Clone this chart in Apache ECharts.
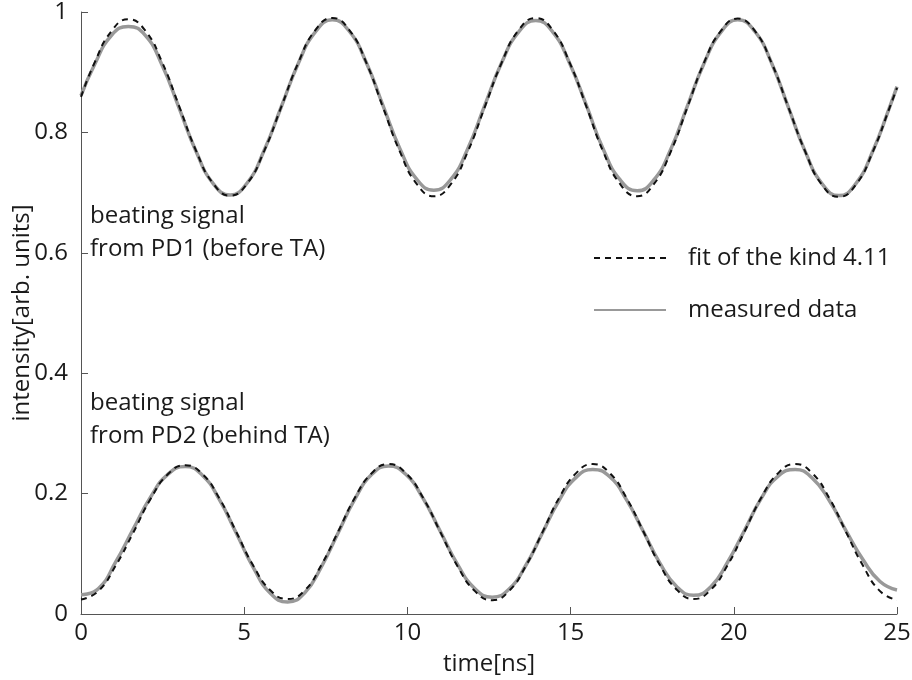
<!DOCTYPE html>
<html>
<head>
<meta charset="utf-8">
<script src="https://cdn.jsdelivr.net/npm/echarts@6/dist/echarts.min.js"></script>
<style>
  html, body { margin: 0; padding: 0; background: #fff; }
  #main { width: 912px; height: 680px; }
</style>
</head>
<body>
<div id="main"></div>
<script>
// upper pair of curves: PD1 (before TA), sampled around the peaks and troughs
const timeTop = [0, 0.41, 0.93, 1.45, 1.97, 2.49, 3.01, 3.53, 4.05, 4.57,
  5.09, 5.61, 6.14, 6.66, 7.18, 7.70, 8.22, 8.74, 9.25, 9.77,
  10.29, 10.81, 11.33, 11.85, 12.37, 12.89, 13.41, 13.93, 14.45, 14.97,
  15.49, 16.00, 16.52, 17.04, 17.55, 18.07, 18.58, 19.09, 19.61, 20.12,
  20.64, 21.16, 21.67, 22.19, 22.70, 23.22, 23.74, 24.26, 24.78, 25];
const fitTop = [0.859, 0.915, 0.968, 0.988, 0.969, 0.916, 0.843, 0.769, 0.715, 0.695,
  0.715, 0.769, 0.843, 0.916, 0.970, 0.990, 0.970, 0.916, 0.842, 0.768,
  0.714, 0.694, 0.714, 0.768, 0.842, 0.916, 0.970, 0.990, 0.970, 0.916,
  0.842, 0.768, 0.714, 0.694, 0.714, 0.768, 0.842, 0.916, 0.969, 0.989,
  0.969, 0.915, 0.842, 0.768, 0.713, 0.693, 0.713, 0.768, 0.842, 0.874];
const measTop = [0.861, 0.912, 0.961, 0.976, 0.961, 0.911, 0.840, 0.768, 0.715, 0.696,
  0.716, 0.770, 0.843, 0.915, 0.967, 0.987, 0.968, 0.916, 0.845, 0.773,
  0.722, 0.704, 0.722, 0.773, 0.845, 0.916, 0.967, 0.986, 0.967, 0.915,
  0.844, 0.772, 0.721, 0.703, 0.721, 0.772, 0.844, 0.915, 0.967, 0.987,
  0.968, 0.915, 0.842, 0.768, 0.715, 0.695, 0.715, 0.769, 0.843, 0.876];

// lower pair of curves: PD2 (behind TA)
const timeBottom = [0, 0.53, 1.06, 1.60, 2.13, 2.66, 3.19, 3.71, 4.24, 4.76,
  5.28, 5.81, 6.33, 6.85, 7.36, 7.88, 8.39, 8.91, 9.42, 9.95,
  10.48, 11.01, 11.54, 12.07, 12.60, 13.11, 13.63, 14.14, 14.65, 15.17,
  15.68, 16.20, 16.71, 17.23, 17.74, 18.26, 18.77, 19.29, 19.81, 20.33,
  20.84, 21.36, 21.88, 22.40, 22.92, 23.44, 23.96, 24.48, 25];
const fitBottom = [0.024, 0.038, 0.080, 0.135, 0.191, 0.232, 0.247, 0.233, 0.192, 0.136,
  0.080, 0.039, 0.025, 0.039, 0.081, 0.137, 0.193, 0.234, 0.249, 0.234,
  0.193, 0.136, 0.079, 0.038, 0.023, 0.038, 0.080, 0.136, 0.193, 0.234,
  0.249, 0.234, 0.193, 0.137, 0.081, 0.040, 0.025, 0.040, 0.081, 0.137,
  0.193, 0.234, 0.249, 0.234, 0.193, 0.136, 0.080, 0.038, 0.023];
const measBottom = [0.032, 0.042, 0.086, 0.141, 0.194, 0.232, 0.245, 0.231, 0.190, 0.134,
  0.077, 0.034, 0.020, 0.035, 0.078, 0.135, 0.191, 0.232, 0.246, 0.232,
  0.192, 0.137, 0.082, 0.042, 0.028, 0.041, 0.081, 0.135, 0.189, 0.227,
  0.240, 0.228, 0.190, 0.137, 0.084, 0.045, 0.031, 0.045, 0.086, 0.139,
  0.192, 0.229, 0.240, 0.226, 0.189, 0.138, 0.090, 0.054, 0.040];

const fitName = 'fit of the kind 4.11';
const measName = 'measured data';

const font = '"Open Sans", sans-serif';
const textColor = '#1a1a1a';
const axisColor = '#555';

function pairs(ts, ys) {
  return ts.map((t, i) => [t, ys[i]]);
}

function measSeries(ts, ys) {
  return {
    name: measName,
    type: 'line',
    data: pairs(ts, ys),
    smooth: 0.5,
    symbol: 'none',
    z: 2,
    lineStyle: { color: '#999', width: 3.5 },
    itemStyle: { color: '#999' }
  };
}

function fitSeries(ts, ys) {
  return {
    name: fitName,
    type: 'line',
    data: pairs(ts, ys),
    smooth: 0.5,
    symbol: 'none',
    z: 3,
    lineStyle: { color: '#111', width: 2, type: [6, 5] },
    itemStyle: { color: '#111' }
  };
}

const chart = echarts.init(document.getElementById('main'), null, { renderer: 'canvas' });

chart.setOption({
  animation: false,
  backgroundColor: '#fff',
  textStyle: { fontFamily: font },
  grid: { left: 81, right: 15, top: 12, bottom: 66, containLabel: false, outerBoundsMode: 'none' },
  xAxis: {
    type: 'value',
    min: 0,
    max: 25,
    interval: 5,
    name: 'time[ns]',
    nameLocation: 'middle',
    nameGap: 38,
    nameMoveOverlap: false,
    nameTextStyle: { fontSize: 24, color: textColor, fontFamily: font },
    axisLine: { lineStyle: { color: axisColor, width: 1 } },
    axisTick: { inside: true, length: 7, lineStyle: { color: axisColor } },
    axisLabel: { fontSize: 24, color: textColor, margin: 7, fontFamily: font },
    splitLine: { show: false }
  },
  yAxis: {
    type: 'value',
    min: 0,
    max: 1,
    interval: 0.2,
    name: 'intensity[arb. units]',
    nameLocation: 'middle',
    nameGap: 47,
    nameMoveOverlap: false,
    nameTextStyle: { fontSize: 24, color: textColor, fontFamily: font },
    axisLine: { show: true, lineStyle: { color: axisColor, width: 1 } },
    axisTick: { show: true, inside: true, length: 7, lineStyle: { color: axisColor } },
    axisLabel: { fontSize: 24, color: textColor, margin: 13, fontFamily: font },
    splitLine: { show: false }
  },
  legend: {
    orient: 'vertical',
    left: 588,
    top: 241,
    itemWidth: 72,
    itemHeight: 14,
    itemGap: 28,
    data: [fitName, measName],
    itemStyle: { opacity: 0 },
    textStyle: { fontSize: 24, color: textColor, fontFamily: font, padding: [0, 0, 0, 17] }
  },
  graphic: [
    {
      type: 'text',
      left: 90,
      top: 200,
      style: {
        text: 'beating signal\nfrom PD1 (before TA)',
        font: '24px "Open Sans", sans-serif',
        lineHeight: 33,
        fill: textColor
      }
    },
    {
      type: 'text',
      left: 90,
      top: 387,
      style: {
        text: 'beating signal\nfrom PD2 (behind TA)',
        font: '24px "Open Sans", sans-serif',
        lineHeight: 33,
        fill: textColor
      }
    }
  ],
  series: [
    measSeries(timeTop, measTop),
    measSeries(timeBottom, measBottom),
    fitSeries(timeTop, fitTop),
    fitSeries(timeBottom, fitBottom)
  ]
});
</script>
</body>
</html>
